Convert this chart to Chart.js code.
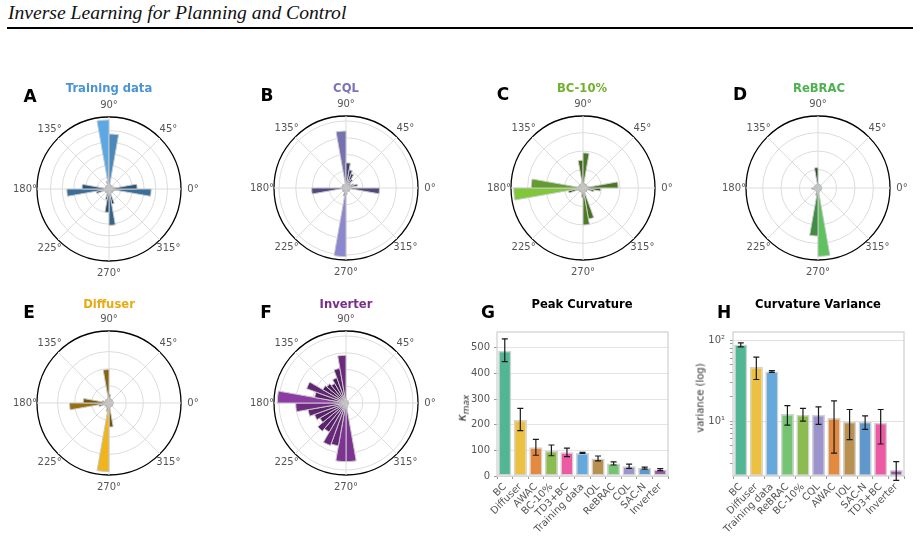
<!DOCTYPE html>
<html>
<head>
<meta charset="utf-8">
<script src="https://cdn.jsdelivr.net/npm/chart.js@4.4.1/dist/chart.umd.min.js"></script>
<style>
body{margin:0;background:#fff;width:921px;height:538px;position:relative;overflow:hidden;font-family:"DejaVu Sans",sans-serif}
canvas{position:absolute}
.t{position:absolute;white-space:nowrap;transform:translate(-50%,-50%)}
.hdr{position:absolute;left:8px;top:2px;font:italic 19.6px "Liberation Serif",serif;color:#111}
.rule{position:absolute;left:7px;top:27px;width:906px;height:2px;background:#000}
.let{font-weight:bold;font-size:17px;color:#000}
.ttl{font-weight:bold;font-size:11.6px}
</style>
</head>
<body>
<div class="hdr">Inverse Learning for Planning and Control</div>
<div class="rule"></div>

<canvas id="pA" width="200" height="200" style="left:9px;top:89px"></canvas>
<canvas id="pB" width="200" height="200" style="left:246px;top:88px"></canvas>
<canvas id="pC" width="200" height="200" style="left:483px;top:88px"></canvas>
<canvas id="pD" width="200" height="200" style="left:718px;top:88px"></canvas>
<canvas id="pE" width="200" height="200" style="left:9px;top:303px"></canvas>
<canvas id="pF" width="200" height="200" style="left:246px;top:303px"></canvas>
<canvas id="bG" width="220" height="218" style="left:455px;top:320px"></canvas>
<canvas id="bH" width="231" height="218" style="left:690px;top:320px"></canvas>

<div class="t let" style="left:30px;top:96px">A</div>
<div class="t let" style="left:267px;top:95px">B</div>
<div class="t let" style="left:503px;top:94px">C</div>
<div class="t let" style="left:740px;top:94px">D</div>
<div class="t let" style="left:29px;top:312px">E</div>
<div class="t let" style="left:266px;top:312px">F</div>
<div class="t let" style="left:488px;top:312px">G</div>
<div class="t let" style="left:724px;top:312px">H</div>

<div class="t ttl" style="left:109px;top:88px;color:#4a93d6">Training data</div>
<div class="t ttl" style="left:346px;top:88px;color:#7b74bd">CQL</div>
<div class="t ttl" style="left:582px;top:88px;color:#6fb02c">BC-10%</div>
<div class="t ttl" style="left:819px;top:88px;color:#4fb150">ReBRAC</div>
<div class="t ttl" style="left:109px;top:304px;color:#e9aa12">Diffuser</div>
<div class="t ttl" style="left:346px;top:304px;color:#7b2d8e">Inverter</div>
<div class="t ttl" style="left:582px;top:304px;color:#000">Peak Curvature</div>
<div class="t ttl" style="left:818px;top:304px;color:#000">Curvature Variance</div>

<div class="t" style="left:463px;top:408px;transform:translate(-50%,-50%) rotate(-90deg);font-size:12px;font-style:italic;color:#222">κ<sub style="font-size:9px">max</sub></div>
<div class="t" style="left:700px;top:398px;transform:translate(-50%,-50%) rotate(-90deg);font-size:10px;color:#333">variance (log)</div>

<script>
// histogram of heading angles, 36 bins of 10 deg starting at 0 (counter-clockwise from east)
const trainingData = [2.4,0.5,0.4,0.35,0.35,0.35,0.35,0.4,4.7,5.9,0.7,0.35,0.35,0.35,0.35,0.35,0.35,2.3,3.6,1.1,0.4,0.4,0.4,0.4,0.4,0.9,2.0,3.1,1.3,0.4,0.4,0.4,0.4,0.4,0.5,3.6];
const cqlData = [0.3,0.7,0.5,0.3,0.35,0.6,0.9,1.1,1.5,3.4,0.25,0.25,0.25,0.25,0.25,0.25,0.25,0.3,2.05,0.25,0.25,0.25,0.25,0.25,0.25,0.5,4.1,0.4,0.25,0.25,0.25,0.25,0.25,0.25,0.25,2.0];
const bc10Data = [1.9,0.3,0.25,0.25,0.25,0.25,0.25,0.25,1.9,1.5,0.3,0.25,0.25,0.25,0.25,0.25,0.25,2.8,3.75,0.8,0.3,0.25,0.25,0.25,0.25,0.25,0.5,2.0,1.7,0.25,0.25,0.25,0.25,0.25,0.6,0.95];
const rebracData = [0.2,0.2,0.2,0.2,0.2,0.2,0.2,0.2,0.25,1.1,0.2,0.2,0.2,0.2,0.2,0.2,0.2,0.25,0.35,0.3,0.2,0.2,0.2,0.2,0.2,0.4,2.6,3.7,0.25,0.2,0.2,0.2,0.2,0.2,0.2,0.2];
const diffuserData = [0.25,0.25,0.25,0.25,0.25,0.25,0.25,0.3,0.5,1.95,0.3,0.25,0.25,0.25,0.25,0.25,0.4,1.5,2.3,0.6,0.3,0.25,0.25,0.25,0.3,0.5,4.0,1.4,0.3,0.25,0.25,0.25,0.25,0.25,0.25,0.25];
const inverterData = [0.15,0.15,0.15,0.15,0.15,0.15,0.15,0.15,0.3,2.85,2.1,1.6,1.35,1.5,1.6,2.5,1.9,4.1,3.0,2.3,2.0,1.8,2.2,2.0,2.7,2.6,3.5,3.5,0.3,0.15,0.15,0.15,0.15,0.15,0.15,0.15];
const angleTicks = [0,45,90,135,180,225,270,315];

const peakCats = ['BC','Diffuser','AWAC','BC-10%','TD3+BC','Training data','IQL','ReBRAC','CQL','SAC-N','Inverter'];
const peakMean = [489,219,112,99,93,90,68,49,38,32,25];
const peakLow  = [446,177,81,79,76,88,59,43,30,27,21];
const peakHigh = [535,264,143,121,109,92,78,55,46,35,29];
const peakTicks = [0,100,200,300,400,500];

const varCats = ['BC','Diffuser','Training data','ReBRAC','BC-10%','CQL','AWAC','IQL','SAC-N','TD3+BC','Inverter'];
const varMean = [88.5,46.8,41,12.2,12.0,12.0,10.9,9.8,9.8,9.5,2.48];
const varLow  = [82.7,32.7,40,8.9,10,9.1,4.0,5.9,7.9,5.2,1.85];
const varHigh = [92.6,62,42,15.5,14.4,15.0,17.8,13.9,11.6,13.9,3.15];
const varTicks = [3,4,5,6,7,8,9,10,20,30,40,50,60,70,80,90,100];

const methodColor = {
  'BC':'#52b594','Diffuser':'#ecc040','AWAC':'#e48a3e','BC-10%':'#8cbc50','TD3+BC':'#ec5aa4',
  'Training data':'#64a8dc','IQL':'#b89050','ReBRAC':'#74c474','CQL':'#9c94cc','SAC-N':'#5e98cc','Inverter':'#9a5aac'
};

function rgb(h){ const n = parseInt(h.slice(1),16); return [n>>16&255, n>>8&255, n&255]; }
function shade(p, v){
  const top = Math.max(...p.values);
  const t = Math.pow(Math.min(1, Math.max(0, (v || 0) / top)), 1.4);
  const a = rgb(p.dark), b = rgb(p.base);
  return 'rgb(' + a.map((x,i) => Math.round(x + (b[i]-x)*t)).join(',') + ')';
}

const polarDecor = {
  id:'polarDecor',
  beforeDatasetsDraw(chart){
    const s = chart.scales.r, ctx = chart.ctx;
    ctx.save();
    ctx.strokeStyle = '#dcdcdc'; ctx.lineWidth = 1;
    angleTicks.forEach(a => {
      const t = a*Math.PI/180;
      ctx.beginPath();
      ctx.moveTo(s.xCenter, s.yCenter);
      ctx.lineTo(s.xCenter + s.drawingArea*Math.cos(t), s.yCenter - s.drawingArea*Math.sin(t));
      ctx.stroke();
    });
    ctx.restore();
  },
  afterDraw(chart){
    const s = chart.scales.r, ctx = chart.ctx, r = s.drawingArea + 12;
    ctx.save();
    ctx.fillStyle = '#555'; ctx.font = '10px "DejaVu Sans"';
    ctx.textAlign = 'center'; ctx.textBaseline = 'middle';
    angleTicks.forEach(a => {
      const t = a*Math.PI/180;
      ctx.fillText(a + '°', s.xCenter + r*Math.cos(t), s.yCenter - r*Math.sin(t));
    });
    ctx.restore();
  }
};

const polarPanels = [
  {id:'pA', values:trainingData, rmax:6.15, base:'#5ca8e4', dark:'#1a3552'},
  {id:'pB', values:cqlData, rmax:4.3, base:'#8c88d0', dark:'#2c2850'},
  {id:'pC', values:bc10Data, rmax:3.9, base:'#80c83a', dark:'#284614'},
  {id:'pD', values:rebracData, rmax:3.9, base:'#5ec25e', dark:'#163a1e'},
  {id:'pE', values:diffuserData, rmax:4.2, base:'#f0b41c', dark:'#4a3806'},
  {id:'pF', values:inverterData, rmax:4.3, base:'#8c3ca4', dark:'#3a1046'}
];

polarPanels.forEach(p => {
  new Chart(document.getElementById(p.id), {
    type:'polarArea',
    data:{
      labels: p.values.map((v,i) => (35-i)*10 + '°'),
      // chart.js goes clockwise, so the bins are fed in reverse order
      datasets:[{
        data: p.values.slice().reverse(),
        backgroundColor: c => shade(p, c.raw),
        borderColor:'#c8c8c8',
        borderWidth:1
      }]
    },
    options:{
      responsive:false,
      animation:false,
      layout:{padding:28},
      plugins:{legend:{display:false}, tooltip:{enabled:false}},
      scales:{
        r:{
          min:0, max:p.rmax, startAngle:90,
          ticks:{display:false},
          afterBuildTicks: s => {
            const t = [];
            for (let v = 0; v < p.rmax - 0.2; v++) t.push({value:v});
            t.push({value:p.rmax});
            s.ticks = t;
          },
          grid:{
            circular:true,
            color: c => c.index === c.scale.ticks.length-1 ? '#000' : '#dcdcdc',
            lineWidth: c => c.index === c.scale.ticks.length-1 ? 1.3 : 1
          },
          angleLines:{display:false},
          pointLabels:{display:false}
        }
      }
    },
    plugins:[polarDecor]
  });
});

const frame = {
  id:'frame',
  beforeDatasetsDraw(chart){
    const a = chart.chartArea, ctx = chart.ctx;
    ctx.save();
    ctx.strokeStyle = '#cfcfcf'; ctx.lineWidth = 1.2;
    ctx.strokeRect(a.left, a.top, a.right-a.left, a.bottom-a.top);
    ctx.restore();
  }
};

const errorBars = {
  id:'errorBars',
  afterDatasetsDraw(chart, args, opts){
    const meta = chart.getDatasetMeta(0), y = chart.scales.y, ctx = chart.ctx, a = chart.chartArea;
    ctx.save();
    ctx.beginPath(); ctx.rect(a.left, a.top-4, a.right-a.left, a.bottom-a.top+10); ctx.clip();
    ctx.strokeStyle = '#1a1a1a'; ctx.lineWidth = 1.2;
    meta.data.forEach((bar,i) => {
      const x = bar.x, y0 = y.getPixelForValue(opts.low[i]), y1 = y.getPixelForValue(opts.high[i]);
      ctx.beginPath();
      ctx.moveTo(x,y0); ctx.lineTo(x,y1);
      ctx.moveTo(x-3,y0); ctx.lineTo(x+3,y0);
      ctx.moveTo(x-3,y1); ctx.lineTo(x+3,y1);
      ctx.stroke();
    });
    ctx.restore();
  }
};

function barChart(id, cats, mean, low, high, yScale, yWidth, padRight){
  return new Chart(document.getElementById(id), {
    type:'bar',
    data:{
      labels:cats,
      datasets:[{
        data:mean,
        backgroundColor:cats.map(c => methodColor[c]),
        borderColor:'#d2d2d2',
        borderWidth:1.5,
        borderSkipped:false,
        barPercentage:0.85,
        categoryPercentage:1
      }]
    },
    options:{
      responsive:false,
      animation:false,
      layout:{padding:{top:12, right:padRight, left:0, bottom:0}},
      plugins:{legend:{display:false}, tooltip:{enabled:false}, errorBars:{low, high}},
      scales:{
        x:{
          grid:{drawOnChartArea:false, tickLength:3, tickColor:'#999'},
          border:{display:false},
          ticks:{color:'#555', font:{family:'DejaVu Sans', size:10}, minRotation:45, maxRotation:45, padding:2, autoSkip:false},
          afterFit: s => { s.height = 62; }
        },
        y:Object.assign({
          border:{display:false},
          afterFit: s => { s.width = yWidth; }
        }, yScale)
      }
    },
    plugins:[frame, errorBars]
  });
}

barChart('bG', peakCats, peakMean, peakLow, peakHigh, {
  min:0, max:562,
  afterBuildTicks: s => { s.ticks = peakTicks.map(v => ({value:v})); },
  grid:{color:'#e4e4e4', tickLength:3, tickColor:'#999'},
  ticks:{color:'#555', font:{family:'DejaVu Sans', size:10}, padding:4, callback: v => String(v)}
}, 42, 7);

barChart('bH', varCats, varMean, varLow, varHigh, {
  type:'logarithmic',
  min:2.09, max:126.6,
  afterBuildTicks: s => { s.ticks = varTicks.map(v => ({value:v})); },
  grid:{
    color: c => (c.tick && (c.tick.value === 10 || c.tick.value === 100)) ? '#e0e0e0' : 'rgba(0,0,0,0)',
    tickLength:3, tickColor:'#999'
  },
  ticks:{
    color:'#555', font:{family:'DejaVu Sans', size:10}, padding:5, autoSkip:false,
    callback: v => v === 10 ? '10¹' : (v === 100 ? '10²' : '')
  }
}, 43, 17);
</script>
</body>
</html>
